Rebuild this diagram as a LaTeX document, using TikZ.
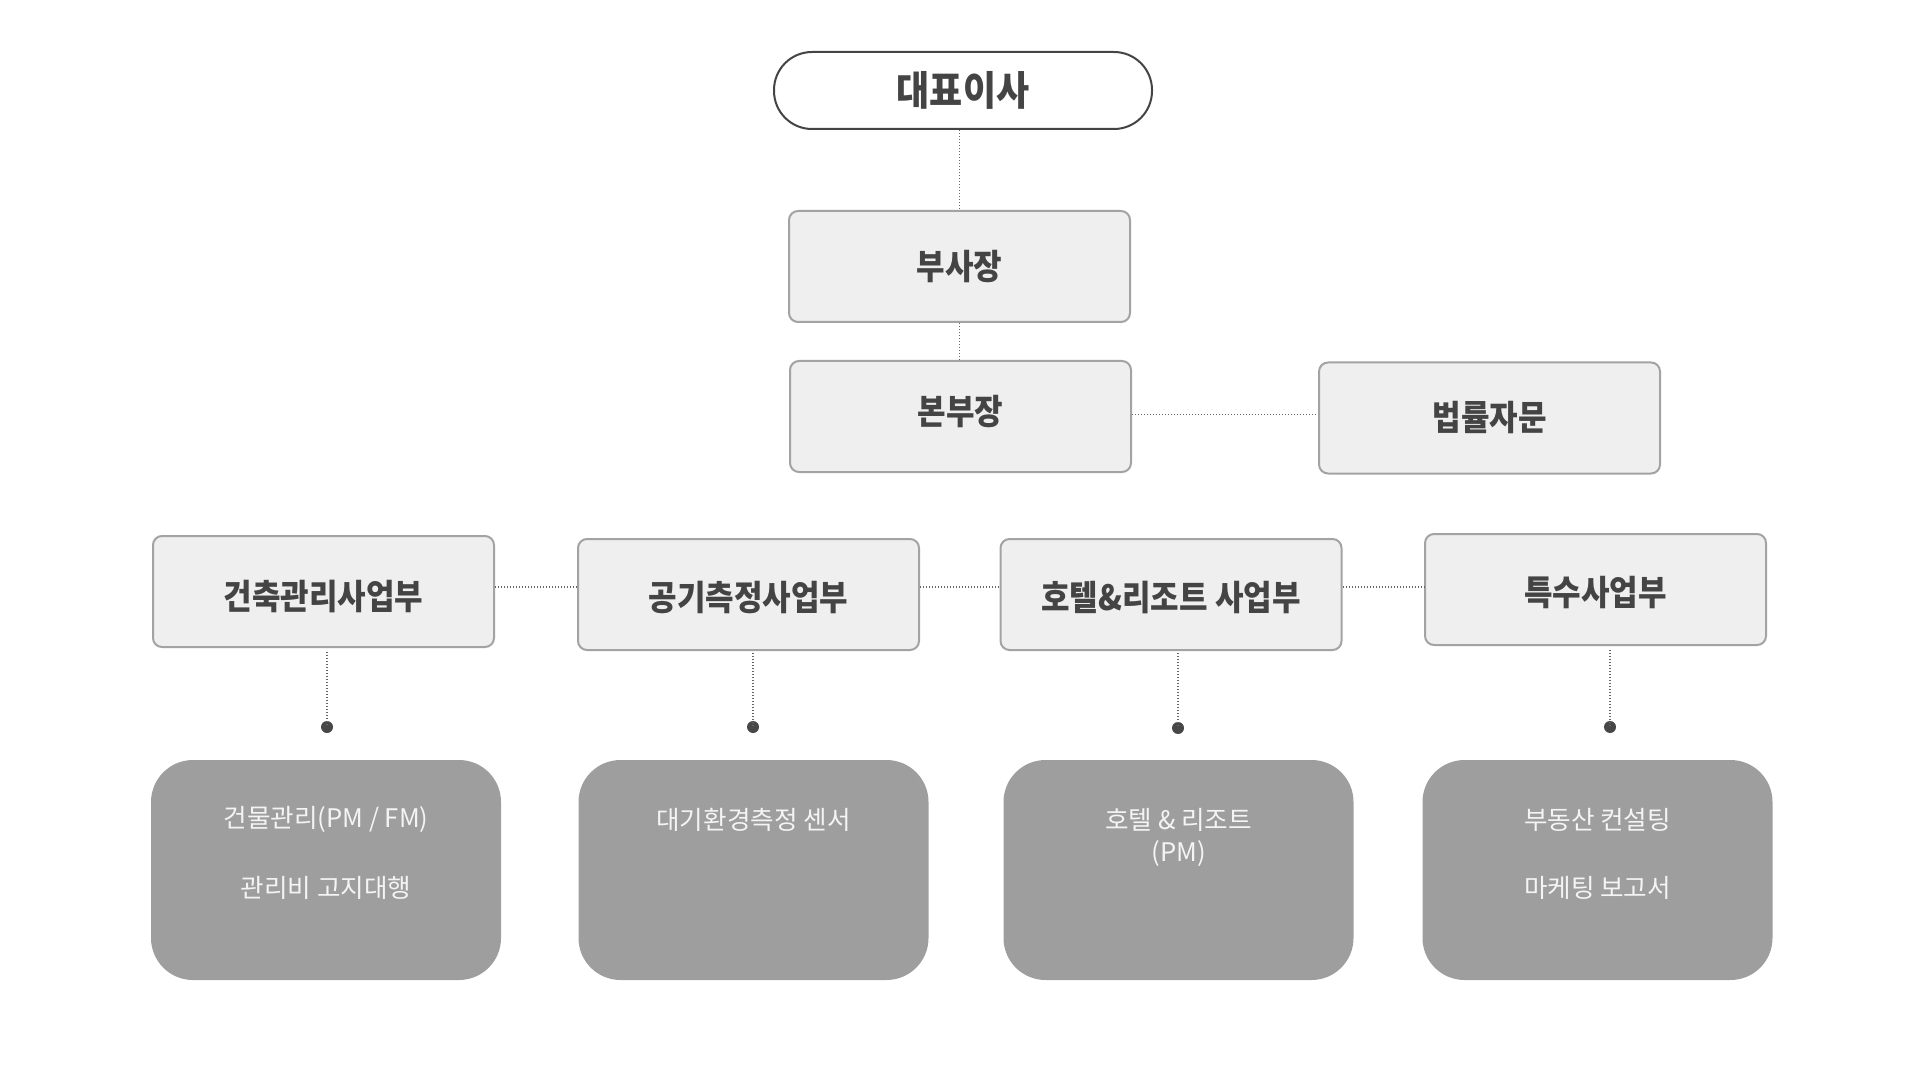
\documentclass[tikz,border=0pt]{standalone}
\usepackage{fontspec}
\usepackage{graphicx}
\newfontfamily\kr{Noto Sans CJK KR}
\newcommand{\talltext}[1]{\scalebox{1}[1.12]{#1}}
\definecolor{txt}{HTML}{444444}
\definecolor{boxfill}{HTML}{EFEFEF}
\definecolor{boxline}{HTML}{A3A3A3}
\definecolor{pillline}{HTML}{444444}
\definecolor{lowfill}{HTML}{9E9E9E}
\definecolor{lowtxt}{HTML}{F4F4F4}
\definecolor{conncol}{HTML}{666666}
\definecolor{dotcol}{HTML}{474747}
\begin{document}
\begin{tikzpicture}[x=0.5pt,y=-0.5pt,
  pillbox/.style={draw=pillline, line width=1pt, fill=white, rounded corners=19pt,
    minimum width=189pt, minimum height=38.5pt, inner sep=0pt},
  orgbox/.style={draw=boxline, line width=1pt, fill=boxfill, rounded corners=4.5pt,
    minimum width=170.5pt, minimum height=55.5pt, inner sep=0pt},
  lowbox/.style={fill=lowfill, rounded corners=21pt,
    minimum width=175pt, minimum height=110pt, inner sep=0pt},
  title/.style={font=\kr\bfseries\fontsize{15.5pt}{17pt}\selectfont, text=txt, inner sep=0pt},
  bigtitle/.style={font=\kr\bfseries\fontsize{18pt}{20pt}\selectfont, text=txt, inner sep=0pt},
  lowtext/.style={font=\kr\fontsize{12.8pt}{14pt}\selectfont, text=lowtxt, inner sep=0pt},
  conn/.style={draw=conncol, line width=0.95pt, dash pattern=on 0.6pt off 0.9pt},
  dotmark/.style={circle, fill=dotcol, minimum size=6pt, inner sep=0pt}]
\useasboundingbox (0,0) rectangle (1920,1080);

% top levels
\node[pillbox] (ceo) at (963,90.5) {};
\node[bigtitle] (ceot) at (ceo.center) {\talltext{대표이사}};
\node[orgbox] (vp) at (959.5,266.5) {};
\node[title] (vpt) at (vp.center) {\talltext{부사장}};
\node[orgbox] (hq) at (960.5,416.5) {};
\node[title] (hqt) at ([yshift=2.5pt]hq.center) {\talltext{본부장}};
\node[orgbox] (legal) at (1489.5,418) {};
\node[title] (legalt) at (legal.center) {\talltext{법률자문}};

% departments
\node[orgbox] (d1) at (323.5,591.5) {};
\node[title] (d1t) at ([yshift=-2.5pt]d1.center) {\talltext{건축관리사업부}};
\node[orgbox] (d2) at (748.5,594.5) {};
\node[title] (d2t) at ([yshift=-1.5pt]d2.center) {\talltext{공기측정사업부}};
\node[orgbox] (d3) at (1171,594.5) {};
\node[title] (d3t) at ([yshift=-1.5pt]d3.center) {\talltext{호텔\&리조트 사업부}};
\node[orgbox] (d4) at (1595.5,589.5) {};
\node[title] (d4t) at ([yshift=-1.5pt]d4.center) {\talltext{특수사업부}};

% dots
\node[dotmark] (p1) at (327,727) {};
\node[dotmark] (p2) at (753,727) {};
\node[dotmark] (p3) at (1178,728) {};
\node[dotmark] (p4) at (1610,727) {};

% lower boxes
\node[lowbox] (b1) at (326,870) {};
\node[lowbox] (b2) at (753.5,870) {};
\node[lowbox] (b3) at (1178.5,870) {};
\node[lowbox] (b4) at (1597.5,870) {};
\node[lowtext] (b1a) at ([yshift=-30pt]b1.north) {건물관리(PM / FM)};
\node[lowtext] (b1b) at ([yshift=-64pt]b1.north) {관리비 고지대행};
\node[lowtext] (b2a) at ([yshift=-30pt]b2.north) {대기환경측정 센서};
\node[lowtext] (b3a) at ([yshift=-30pt]b3.north) {호텔 \& 리조트};
\node[lowtext] (b3b) at ([yshift=-47pt]b3.north) {(PM)};
\node[lowtext] (b4a) at ([yshift=-30pt]b4.north) {부동산 컨설팅};
\node[lowtext] (b4b) at ([yshift=-64pt]b4.north) {마케팅 보고서};

% connectors
\draw[conn] (ceo.south -| vp.north) -- (vp.north);
\draw[conn] (vp.south) -- (vp.south |- hq.north);
\draw[conn] ([yshift=1pt]hq.east) -- ([yshift=1pt]hq.east -| legal.west);
\draw[conn] ([yshift=2.25pt]d1.east) -- ([yshift=2.25pt]d1.east -| d2.west);
\draw[conn] ([yshift=3.75pt]d2.east) -- ([yshift=3.75pt]d2.east -| d3.west);
\draw[conn] ([yshift=3.75pt]d3.east) -- ([yshift=3.75pt]d3.east -| d4.west);
\draw[conn] ([yshift=-2pt]p1 |- d1.south) -- (p1.center);
\draw[conn] ([yshift=-1pt]p2 |- d2.south) -- (p2.center);
\draw[conn] ([yshift=-1pt]p3 |- d3.south) -- (p3.center);
\draw[conn] ([yshift=-2pt]p4 |- d4.south) -- (p4.center);
\end{tikzpicture}
\end{document}
